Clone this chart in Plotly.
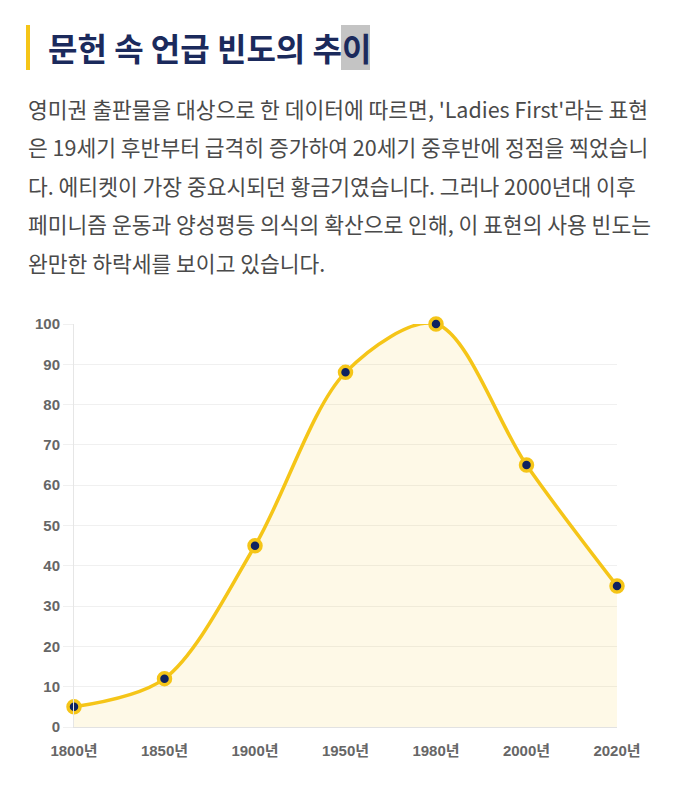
import plotly.graph_objects as go

# data
years = ["1800년", "1850년", "1900년", "1950년", "1980년", "2000년", "2020년"]
freq = [5, 12, 45, 88, 100, 65, 35]
y_ticks = [0, 10, 20, 30, 40, 50, 60, 70, 80, 90, 100]

title_text = "문헌 속 언급 빈도의 추이"
body_lines = [
    "영미권 출판물을 대상으로 한 데이터에 따르면, 'Ladies First'라는 표현",
    "은 19세기 후반부터 급격히 증가하여 20세기 중후반에 정점을 찍었습니",
    "다. 에티켓이 가장 중요시되던 황금기였습니다. 그러나 2000년대 이후",
    "페미니즘 운동과 양성평등 의식의 확산으로 인해, 이 표현의 사용 빈도는",
    "완만한 하락세를 보이고 있습니다.",
]

# page has an 8px body margin, so work in page pixels and shift
OFF = 8
W, H = 677 - OFF, 792 - OFF
L, R, T, B = 74 - OFF, 60, 324 - OFF, 65
pw, ph = W - L - R, H - T - B

def px(x):
    return (x - OFF - L) / pw

def py(y):
    return (H - B - (y - OFF)) / ph

gold = "#f5c518"
navy = "#0f2260"
font = "Noto Sans CJK KR"
tick_font = "Liberation Sans, Noto Sans CJK KR"

fig = go.Figure()
fig.add_trace(go.Scatter(
    x=years, y=freq,
    mode="lines+markers",
    line=dict(color=gold, width=3.5, shape="spline", smoothing=0.9),
    fill="tozeroy",
    fillcolor="rgba(245,197,24,0.1)",
    marker=dict(size=12, color=navy, line=dict(color=gold, width=3.5)),
    cliponaxis=False,
    hoverinfo="x+y",
))

# title bar + selection highlight behind last char
fig.add_shape(type="rect", xref="paper", yref="paper",
              x0=px(26), x1=px(30), y0=py(70), y1=py(25),
              fillcolor=gold, line_width=0)
fig.add_shape(type="rect", xref="paper", yref="paper",
              x0=px(341), x1=px(370), y0=py(70), y1=py(25),
              fillcolor="#c4c4c4", line_width=0, layer="below")

fig.add_annotation(text=f"<b>{title_text}</b>", xref="paper", yref="paper",
                   x=px(46), y=py(47), xanchor="left", yanchor="middle",
                   showarrow=False, font=dict(family=font, size=32, color="#1b2a5c"))

for n, line in enumerate(body_lines):
    fig.add_annotation(text=line, xref="paper", yref="paper",
                       x=px(26), y=py(108 + n * 38.5), xanchor="left", yanchor="middle",
                       showarrow=False, font=dict(family=font, size=21.5, color="#4a4a4a"))

fig.update_layout(
    width=W, height=H,
    margin=dict(l=L, r=R, t=T, b=B),
    paper_bgcolor="white", plot_bgcolor="white",
    showlegend=False,
    font=dict(family=font, color="#666"),
    xaxis=dict(
        type="category", range=[0, 6],
        showgrid=False, showline=True, linecolor="#e2e2e2", linewidth=1,
        ticks="", ticklabelstandoff=10,
        tickfont=dict(family=tick_font, size=15, color="#666", weight="bold"),
        zeroline=False,
    ),
    yaxis=dict(
        range=[0, 100], tickvals=y_ticks,
        showgrid=True, gridcolor="#f0f0f0", gridwidth=1,
        showline=True, linecolor="#e6e6e6", linewidth=1,
        ticks="outside", ticklen=10, tickcolor="#f0f0f0",
        tickfont=dict(family=tick_font, size=15, color="#666", weight="bold"),
        zeroline=False,
    ),
)

fig.write_html("out.html")
